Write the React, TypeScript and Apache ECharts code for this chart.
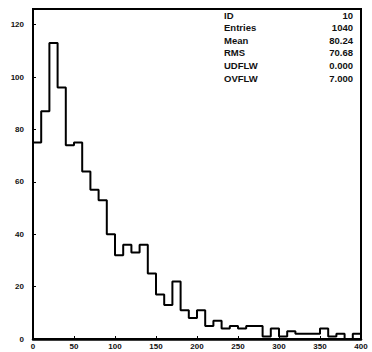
import React, { useEffect, useRef } from "react";
import * as echarts from "echarts";

const binStart = 0;
const binWidth = 10;
const counts = [
  75, 87, 113, 96, 74, 75, 64, 57, 53, 40,
  32, 36, 33, 36, 25, 17, 13, 22, 11, 8,
  11, 5, 7, 4, 5, 4, 5, 5, 1, 4,
  1, 3, 2, 2, 2, 4, 1, 2, 0, 2,
];
const xTicks = [0, 50, 100, 150, 200, 250, 300, 350, 400];
const yTicks = [0, 20, 40, 60, 80, 100, 120];
const statLabels = ["ID", "Entries", "Mean", "RMS", "UDFLW", "OVFLW"];
const statValues = ["10", "1040", "80.24", "70.68", "0.000", "7.000"];

export default function App() {
  const ref = useRef<HTMLDivElement>(null);
  useEffect(() => {
    if (!ref.current) return;
    const chart = echarts.init(ref.current, null, { renderer: "svg" });
    const pts: [number, number][] = [[binStart, 0]];
    counts.forEach((c, i) => pts.push([binStart + i * binWidth, c]));
    const xEnd = binStart + counts.length * binWidth;
    pts.push([xEnd, counts[counts.length - 1]]);
    pts.push([xEnd, 0]);

    const font = "'Liberation Sans', Arial, sans-serif";
    const graphics: any[] = [];
    statLabels.forEach((l, i) => {
      graphics.push({
        type: "text",
        left: 224,
        top: 10 + i * 12.6,
        style: { text: l, font: `bold 9.5px ${font}`, fill: "#111" },
      });
      graphics.push({
        type: "text",
        right: 19,
        top: 10 + i * 12.6,
        style: { text: statValues[i], font: `bold 9.5px ${font}`, fill: "#111", textAlign: "right" },
      });
    });

    chart.setOption({
      animation: false,
      backgroundColor: "#fff",
      grid: {
        left: 33,
        right: 11,
        top: 9,
        bottom: 13,
        show: true,
        borderColor: "#000",
        borderWidth: 2,
        backgroundColor: "transparent",
      },
      xAxis: {
        type: "value",
        min: 0,
        max: 400,
        interval: 50,
        axisLine: { show: true, onZero: false, lineStyle: { color: "#000", width: 2.5 } },
        axisTick: { show: true, inside: true, length: 3, lineStyle: { color: "#000" } },
        splitLine: { show: false },
        axisLabel: {
          color: "#111",
          fontSize: 8,
          fontWeight: "bold",
          fontFamily: font,
          margin: 3,
          formatter: (v: number) => (xTicks.includes(v) ? String(v) : ""),
        },
      },
      yAxis: {
        type: "value",
        min: 0,
        max: 126,
        interval: 20,
        axisLine: { show: true, lineStyle: { color: "#000", width: 2 } },
        axisTick: { show: true, inside: true, length: 3, lineStyle: { color: "#000" } },
        splitLine: { show: false },
        axisLabel: {
          color: "#111",
          fontSize: 8,
          fontWeight: "bold",
          fontFamily: font,
          margin: 9,
          formatter: (v: number) => (yTicks.includes(v) ? String(v) : ""),
        },
      },
      series: [
        {
          type: "line",
          step: "end",
          data: pts,
          symbol: "none",
          lineStyle: { color: "#000", width: 2 },
        },
      ],
      graphic: graphics,
    });
    return () => chart.dispose();
  }, []);
  return (
    <div
      ref={ref}
      style={{ position: "fixed", left: 0, top: 0, width: 372, height: 352, background: "#fff" }}
    />
  );
}
